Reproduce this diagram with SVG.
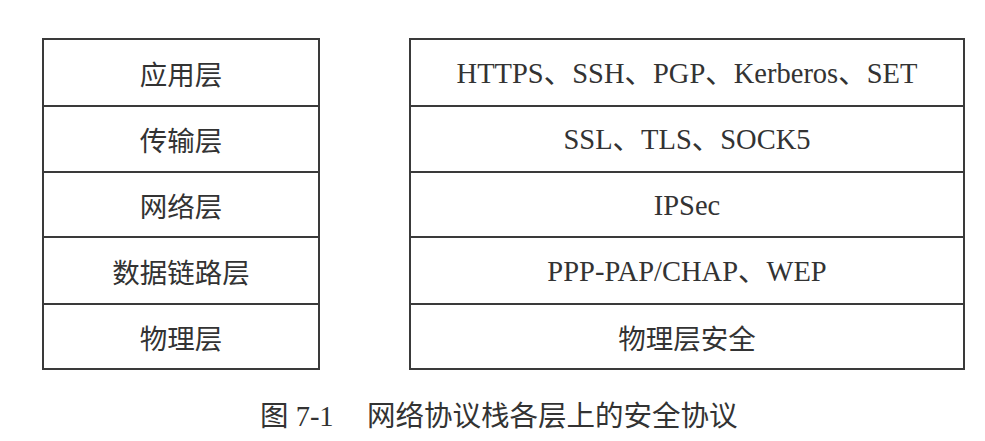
<svg xmlns="http://www.w3.org/2000/svg" width="985" height="441" viewBox="0 0 985 441">
<style>
.box{fill:#fff;stroke:#3a3a3a;stroke-width:2}
.div{stroke:#3a3a3a;stroke-width:2}
.cn{font-family:"Noto Sans CJK SC","Noto Sans",sans-serif;font-size:27.5px;fill:#333;text-anchor:middle;dominant-baseline:central}
.en{font-family:"Liberation Serif","Noto Sans CJK SC",serif;font-size:28.5px;fill:#333;text-anchor:middle;dominant-baseline:central}
.cap{font-family:"Liberation Serif","Noto Sans CJK SC",serif;font-size:28.5px;fill:#333;dominant-baseline:central}
</style>
<rect width="985" height="441" fill="#fff"/>
<g id="left-stack">
<rect class="box" x="43" y="39" width="276" height="330"/>
<line class="div" x1="43" y1="106" x2="319" y2="106"/>
<line class="div" x1="43" y1="172" x2="319" y2="172"/>
<line class="div" x1="43" y1="237" x2="319" y2="237"/>
<line class="div" x1="43" y1="304" x2="319" y2="304"/>
</g>
<g id="right-stack">
<rect class="box" x="410" y="39" width="554" height="330"/>
<line class="div" x1="410" y1="106" x2="964" y2="106"/>
<line class="div" x1="410" y1="172" x2="964" y2="172"/>
<line class="div" x1="410" y1="237" x2="964" y2="237"/>
<line class="div" x1="410" y1="304" x2="964" y2="304"/>
</g>
<g id="layer-app"><text class="cn" x="181" y="73">应用层</text></g>
<g id="layer-transport"><text class="cn" x="181" y="139">传输层</text></g>
<g id="layer-network"><text class="cn" x="181" y="205">网络层</text></g>
<g id="layer-link"><text class="cn" x="181" y="271">数据链路层</text></g>
<g id="layer-phys"><text class="cn" x="181" y="337">物理层</text></g>
<g id="sec-app"><text class="en" x="687" y="73">HTTPS、SSH、PGP、Kerberos、SET</text></g>
<g id="sec-transport"><text class="en" x="687" y="139">SSL、TLS、SOCK5</text></g>
<g id="sec-network"><text class="en" x="687" y="205">IPSec</text></g>
<g id="sec-link"><text class="en" x="687" y="271">PPP-PAP/CHAP、WEP</text></g>
<g id="sec-phys"><text class="cn" x="687" y="337">物理层安全</text></g>
<g id="caption">
<text class="cap" x="260" y="416">图 7-1</text>
<text class="cap" x="367" y="416">网络协议栈各层上的安全协议</text>
</g>
</svg>
